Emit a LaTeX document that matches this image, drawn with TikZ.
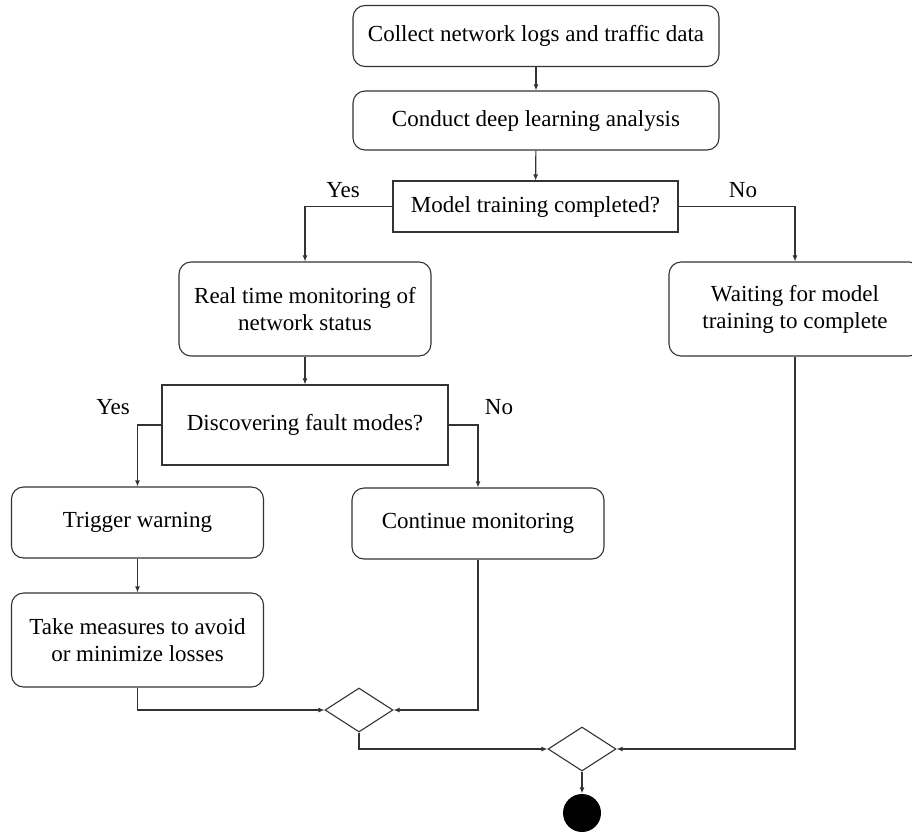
\documentclass[tikz,border=0pt]{standalone}
\usepackage{fontspec}
\setmainfont{Liberation Serif}
\usetikzlibrary{arrows.meta,shapes.geometric}

\begin{document}
\begin{tikzpicture}[x=1pt,y=-1pt,>={Latex[length=6pt,width=5pt]},line width=1.1pt,
  font=\fontsize{23}{27}\selectfont,
  act/.style={draw=black!80,rounded corners=12pt,align=center,minimum width=252pt,inner sep=0pt},
  cond/.style={draw=black!80,rectangle,align=center,inner sep=0pt},
  merge/.style={draw=black!80,diamond,minimum width=68pt,minimum height=44pt,inner sep=0pt},
  flow/.style={->,draw=black!80}]
\useasboundingbox (0,0) rectangle (912,833);
\node[act,minimum width=366pt,minimum height=61pt] (collect) at (536,36) {Collect network logs and traffic data};
\node[act,minimum width=366pt,minimum height=59pt] (analysis) at (536,120.5) {Conduct deep learning analysis};
\node[cond,minimum width=285pt,minimum height=51pt] (trained) at (535.5,206.5) {Model training completed?};
\node[act,minimum height=94pt] (monitor) at (305,309) {Real time monitoring of\\network status};
\node[act,minimum height=94pt] (waiting) at (795,309) {Waiting for model\\training to complete};
\node[cond,minimum width=286pt,minimum height=80pt] (fault) at (305,425) {Discovering fault modes?};
\node[act,minimum height=71pt] (trigger) at (137.5,522.5) {Trigger warning};
\node[act,minimum height=71pt] (continue) at (478,523.5) {Continue monitoring};
\node[act,minimum height=94pt] (measures) at (137.5,640) {Take measures to avoid\\or minimize losses};
\node[merge] (merge1) at (359,710) {};
\node[merge] (merge2) at (582,749) {};
\node[circle,fill=black,minimum size=38pt,inner sep=0pt] (final) at (582,813) {};
% branch labels
\node (yes1) at (343,190) {Yes};
\node (no1) at (743,190) {No};
\node (yes2) at (113,407) {Yes};
\node (no2) at (499,407) {No};
% connectors
\draw[flow] (collect) -- (analysis);
\draw[flow] (analysis) -- (trained);
\draw[flow] (trained.west) -| (monitor.north);
\draw[flow] (trained.east) -| (waiting.north);
\draw[flow] (monitor) -- (fault);
\draw[flow] (fault.west) -| (trigger.north);
\draw[flow] (fault.east) -| (continue.north);
\draw[flow] (trigger) -- (measures);
\draw[flow] (measures.south) |- (merge1.west);
\draw[flow] (continue.south) |- (merge1.east);
\draw[flow] (merge1.south) |- (merge2.west);
\draw[flow] (waiting.south) |- (merge2.east);
\draw[flow] (merge2) -- (final);
\end{tikzpicture}
\end{document}
